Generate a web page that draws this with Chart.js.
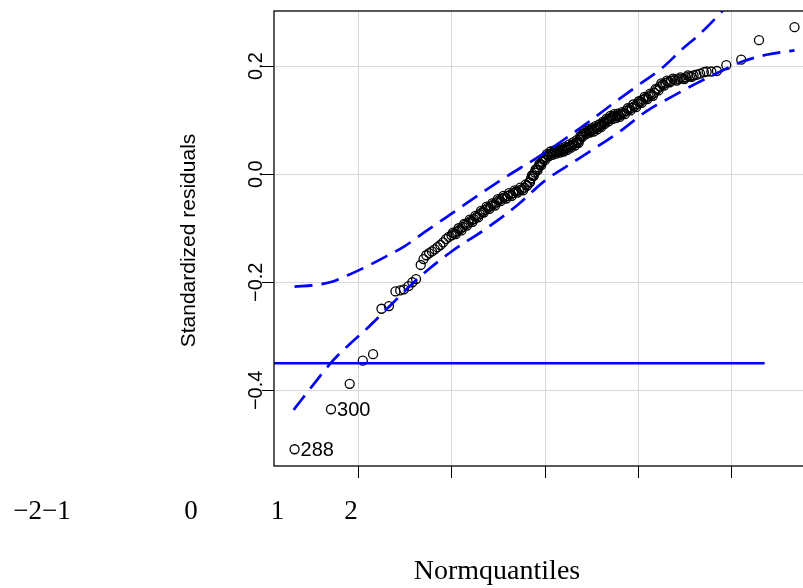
<!DOCTYPE html>
<html>
<head>
<meta charset="utf-8">
<title>QQ plot of standardized residuals</title>
<script src="https://cdn.jsdelivr.net/npm/chart.js@4.4.1/dist/chart.umd.min.js"></script>
<style>
  html, body { margin: 0; padding: 0; background: #fff; overflow: hidden; }
  #wrap { width: 830px; height: 588px; }
</style>
</head>
<body>
<div id="wrap"><canvas id="qq" width="830" height="588"></canvas></div>
<script>
// ─── Data ───

// sorted standardized residuals against their normal quantiles
const normQuantiles = [
  -2.68, -2.29, -2.09, -1.95, -1.84, -1.75, -1.67, -1.60, -1.55, -1.51,
  -1.46, -1.42, -1.38, -1.33, -1.30, -1.27, -1.24, -1.21, -1.18, -1.15,
  -1.12, -1.09, -1.06, -1.03, -1.00, -0.97, -0.94, -0.91, -0.88, -0.85,
  -0.82, -0.79, -0.76, -0.73, -0.70, -0.67, -0.64, -0.61, -0.58, -0.55,
  -0.52, -0.49, -0.46, -0.43, -0.40, -0.37, -0.34, -0.31, -0.28, -0.25,
  -0.22, -0.19, -0.17, -0.15, -0.13, -0.11, -0.09, -0.07, -0.05, -0.03,
  -0.01, 0.01, 0.03, 0.05, 0.07, 0.09, 0.11, 0.13, 0.15, 0.17,
  0.19, 0.21, 0.23, 0.25, 0.27, 0.29, 0.31, 0.33, 0.35, 0.37,
  0.39, 0.41, 0.43, 0.45, 0.47, 0.49, 0.51, 0.53, 0.55, 0.57,
  0.59, 0.61, 0.63, 0.65, 0.67, 0.69, 0.71, 0.73, 0.75, 0.77,
  0.79, 0.81, 0.84, 0.87, 0.90, 0.93, 0.96, 0.99, 1.02, 1.05,
  1.08, 1.11, 1.14, 1.17, 1.20, 1.23, 1.26, 1.29, 1.32, 1.35,
  1.39, 1.43, 1.47, 1.51, 1.55, 1.59, 1.62, 1.66, 1.70, 1.73,
  1.78, 1.84, 1.94, 2.10, 2.29, 2.67,
  // denser middle of the sample
  -0.985, -0.955, -0.925, -0.895, -0.865, -0.835, -0.805, -0.775, -0.745, -0.715,
  -0.685, -0.655, -0.625, -0.595, -0.565, -0.535, -0.505, -0.475, -0.445, -0.415,
  -0.385, -0.355, -0.325, -0.295, -0.265, -0.235, -0.205, -0.16, -0.14, -0.12,
  -0.10, -0.08, -0.06, -0.04, -0.02, 0.00, 0.02, 0.04, 0.06, 0.08,
  0.10, 0.12, 0.14, 0.16, 0.18, 0.20, 0.22, 0.24, 0.26, 0.28,
  0.30, 0.32, 0.34, 0.36, 0.38, 0.40, 0.42, 0.44, 0.46, 0.48,
  0.50, 0.52, 0.54, 0.56, 0.58, 0.60, 0.62, 0.64, 0.66, 0.68,
  0.70, 0.72, 0.74, 0.76, 0.78, 0.80, 0.825, 0.855, 0.885, 0.915,
  0.945, 0.975, 1.005, 1.035, 1.065, 1.095, 1.125, 1.155, 1.185, 1.215,
  1.245, 1.275, 1.305, 1.335, 1.37, 1.41, 1.45, 1.49, 1.53, 1.57,
];
const stdResiduals = [
  -0.509, -0.435, -0.388, -0.345, -0.333, -0.249, -0.244, -0.217, -0.215, -0.213,
  -0.207, -0.200, -0.194, -0.168, -0.157, -0.150, -0.146, -0.143, -0.139, -0.135,
  -0.131, -0.126, -0.120, -0.116, -0.113, -0.110, -0.106, -0.102, -0.098, -0.093,
  -0.090, -0.086, -0.083, -0.079, -0.074, -0.070, -0.066, -0.062, -0.059, -0.056,
  -0.052, -0.048, -0.045, -0.043, -0.040, -0.038, -0.035, -0.032, -0.030, -0.028,
  -0.025, -0.021, -0.015, -0.008, -0.003, 0.003, 0.008, 0.013, 0.018, 0.023,
  0.028, 0.032, 0.035, 0.037, 0.039, 0.040, 0.041, 0.042, 0.043, 0.044,
  0.045, 0.046, 0.048, 0.050, 0.052, 0.054, 0.056, 0.058, 0.060, 0.064,
  0.070, 0.075, 0.077, 0.078, 0.080, 0.081, 0.082, 0.084, 0.086, 0.087,
  0.089, 0.092, 0.095, 0.098, 0.101, 0.103, 0.105, 0.107, 0.108, 0.108,
  0.109, 0.110, 0.113, 0.117, 0.120, 0.123, 0.126, 0.130, 0.134, 0.138,
  0.141, 0.144, 0.147, 0.151, 0.157, 0.162, 0.166, 0.169, 0.171, 0.173,
  0.175, 0.176, 0.177, 0.179, 0.181, 0.183, 0.184, 0.186, 0.189, 0.190,
  0.190, 0.191, 0.202, 0.212, 0.248, 0.272,
  // denser middle of the sample
  -0.108, -0.111, -0.100, -0.104, -0.092, -0.095, -0.084, -0.088, -0.077, -0.080,
  -0.068, -0.071, -0.060, -0.064, -0.054, -0.058, -0.046, -0.050, -0.040, -0.045,
  -0.035, -0.040, -0.030, -0.034, -0.025, -0.030, -0.019, -0.015, -0.002, -0.003,
  0.009, 0.007, 0.019, 0.017, 0.029, 0.026, 0.037, 0.033, 0.042, 0.036,
  0.044, 0.038, 0.046, 0.040, 0.048, 0.042, 0.051, 0.045, 0.055, 0.049,
  0.059, 0.053, 0.063, 0.058, 0.071, 0.069, 0.080, 0.074, 0.083, 0.077,
  0.085, 0.079, 0.089, 0.083, 0.092, 0.087, 0.097, 0.093, 0.103, 0.098,
  0.108, 0.102, 0.111, 0.104, 0.112, 0.106, 0.115, 0.111, 0.122, 0.118,
  0.129, 0.124, 0.135, 0.132, 0.143, 0.139, 0.149, 0.145, 0.158, 0.155,
  0.168, 0.164, 0.173, 0.170, 0.177, 0.173, 0.179, 0.176, 0.183, 0.180,
];

// observations flagged as outliers (index into the arrays above)
const flaggedIndex = [0, 1];
const flaggedLabel = ['288', '300'];

// pointwise confidence envelope
const upperQ = [-2.68, -2.45, -2.28, -2.11, -1.90, -1.70, -1.50, -1.27, -1.00, -0.50, 0.00, 0.50, 0.73, 1.00, 1.25, 1.46, 1.66, 1.86, 2.10, 2.40, 2.68];
const upperY = [-0.208, -0.205, -0.199, -0.187, -0.170, -0.152, -0.133, -0.105, -0.073, -0.014, 0.040, 0.101, 0.131, 0.165, 0.196, 0.230, 0.260, 0.295, 0.340, 0.395, 0.450];
const lowerQ = [-2.69, -2.50, -2.28, -2.10, -1.92, -1.65, -1.34, -1.00, -0.65, -0.30, 0.00, 0.29, 0.80, 1.08, 1.30, 1.62, 1.90, 2.12, 2.37, 2.67];
const lowerY = [-0.436, -0.394, -0.347, -0.316, -0.288, -0.242, -0.190, -0.143, -0.103, -0.058, -0.012, 0.021, 0.079, 0.116, 0.138, 0.168, 0.192, 0.209, 0.221, 0.229];

// horizontal reference line
const refQ = [-2.95, 2.35];
const refY = [-0.35, -0.35];

// axes
const xTickValues = [-2, -1, 0, 1, 2];
const xTickText = ['\u22122', '\u22121', '0', '1', '2'];
const yTickValues = [0.2, 0.0, -0.2, -0.4];
const yTickText = ['0.2', '0.0', '\u22120.2', '\u22120.4'];
const xTitle = 'Normquantiles';
const yTitle = 'Standardized residuals';

// ─── Layout ───

const SANS = '"Liberation Sans", Arial, Helvetica, sans-serif';
const SERIF = '"Liberation Serif", "Times New Roman", serif';
const BLUE = '#0000ff';
const GRID = '#d6d6d6';
const xTickTextPos = [27.7, 56.4, 191, 277.5, 351]; // where the serif tick labels sit
const xTickBaseline = 519;

const toPoints = (xs, ys) => xs.map((v, i) => ({ x: v, y: ys[i] }));

// frame + all text drawn around the plot region
const qqDecor = {
  id: 'qqDecor',
  afterDraw(chart) {
    const { ctx, chartArea: a, scales: { x, y } } = chart;
    ctx.save();

    ctx.strokeStyle = '#000';
    ctx.lineWidth = 1.3;
    ctx.strokeRect(a.left, a.top, a.right - a.left, a.bottom - a.top);

    ctx.fillStyle = '#000';

    // rotated y tick labels
    ctx.font = '20px ' + SANS;
    ctx.textAlign = 'center';
    ctx.textBaseline = 'alphabetic';
    yTickValues.forEach((v, i) => {
      ctx.save();
      ctx.translate(a.left - 12, y.getPixelForValue(v));
      ctx.rotate(-Math.PI / 2);
      ctx.fillText(yTickText[i], 0, 0);
      ctx.restore();
    });

    // y title
    ctx.save();
    ctx.font = '21px ' + SANS;
    ctx.translate(195, (a.top + a.bottom) / 2 + 2);
    ctx.rotate(-Math.PI / 2);
    ctx.fillText(yTitle, 0, 0);
    ctx.restore();

    // x tick labels and title
    ctx.font = '27px ' + SERIF;
    xTickText.forEach((t, i) => ctx.fillText(t, xTickTextPos[i], xTickBaseline));
    ctx.font = '28px ' + SERIF;
    ctx.fillText(xTitle, 497, 579);

    // outlier ids
    ctx.font = '20px ' + SANS;
    ctx.textAlign = 'left';
    ctx.textBaseline = 'middle';
    flaggedIndex.forEach((idx, i) => {
      const px = x.getPixelForValue(normQuantiles[idx]);
      const py = y.getPixelForValue(stdResiduals[idx]);
      ctx.fillText(flaggedLabel[i], px + 6, py + 1);
    });

    ctx.restore();
  },
};

const fixedTicks = vals => scale => { scale.ticks = vals.map(v => ({ value: v })); };

new Chart(document.getElementById('qq'), {
  type: 'scatter',
  data: {
    datasets: [
      {
        label: 'upper',
        data: toPoints(upperQ, upperY),
        showLine: true,
        borderColor: BLUE,
        borderWidth: 2.7,
        borderDash: [18, 9],
        pointRadius: 0,
        cubicInterpolationMode: 'monotone',
        order: 1,
      },
      {
        label: 'lower',
        data: toPoints(lowerQ, lowerY),
        showLine: true,
        borderColor: BLUE,
        borderWidth: 2.7,
        borderDash: [18, 9],
        pointRadius: 0,
        cubicInterpolationMode: 'monotone',
        order: 1,
      },
      {
        label: 'reference',
        data: toPoints(refQ, refY),
        showLine: true,
        borderColor: BLUE,
        borderWidth: 2.5,
        pointRadius: 0,
        order: 1,
      },
      {
        label: 'residuals',
        data: toPoints(normQuantiles, stdResiduals),
        pointStyle: 'circle',
        pointRadius: 4.5,
        borderWidth: 1.3,
        borderColor: '#000',
        backgroundColor: 'rgba(0,0,0,0)',
        order: 2,
      },
    ],
  },
  options: {
    responsive: false,
    animation: false,
    events: [],
    layout: { padding: { top: 11, right: 14, left: 0, bottom: 0 } },
    plugins: { legend: { display: false }, tooltip: { enabled: false } },
    scales: {
      x: {
        type: 'linear',
        min: -2.9,
        max: 2.9,
        afterBuildTicks: fixedTicks(xTickValues),
        afterFit: s => { s.height = 122; },
        ticks: { display: false },
        grid: { color: GRID, lineWidth: 1, tickColor: '#000', tickLength: 12, tickWidth: 1 },
        border: { display: false },
      },
      y: {
        type: 'linear',
        min: -0.54,
        max: 0.302,
        afterBuildTicks: fixedTicks(yTickValues),
        afterFit: s => { s.width = 274; },
        ticks: { display: false },
        grid: { color: GRID, lineWidth: 1, tickColor: '#000', tickLength: 12, tickWidth: 1 },
        border: { display: false },
      },
    },
  },
  plugins: [qqDecor],
});
</script>
</body>
</html>
